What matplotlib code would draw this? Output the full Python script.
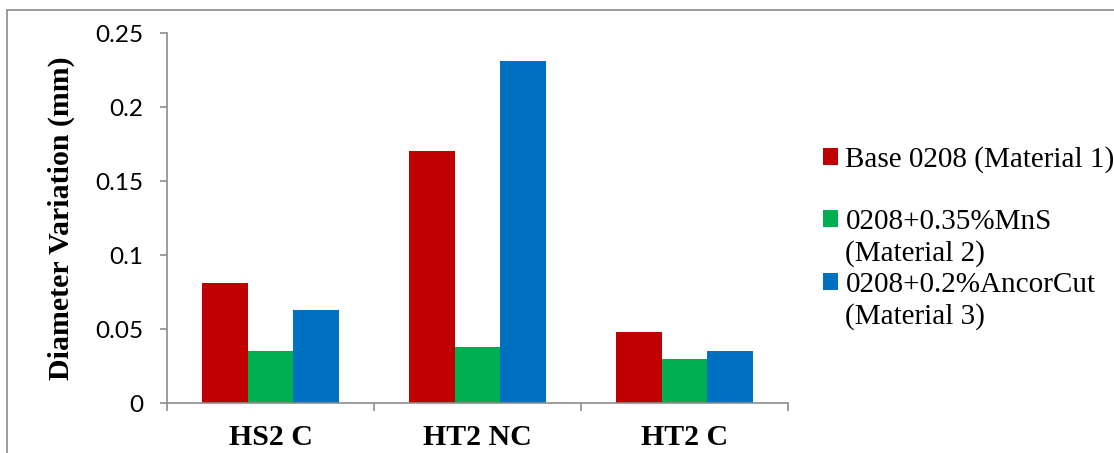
import matplotlib
matplotlib.use("Agg")
import matplotlib.pyplot as plt
import numpy as np
from matplotlib.patches import Rectangle, Patch

categories = ["HS2 C", "HT2 NC", "HT2 C"]
series_names = ["Base 0208 (Material 1)", "0208+0.35%MnS", "0208+0.2%AncorCut"]
series_notes = [None, "(Material 2)", "(Material 3)"]
material_1 = [0.081, 0.170, 0.048]
material_2 = [0.035, 0.038, 0.030]
material_3 = [0.063, 0.231, 0.035]
colors = ["#C00000", "#00B050", "#0070C0"]
yticks = [0, 0.05, 0.1, 0.15, 0.2, 0.25]
ytick_labels = ["0", "0.05", "0.1", "0.15", "0.2", "0.25"]

W, H = 1114, 453
fig = plt.figure(figsize=(W / 100, H / 100), dpi=100)
ax = fig.add_axes([167 / W, 1 - 403 / H, (788 - 167) / W, (403 - 33) / H])

# outer chart frame (runs off the right and bottom edges)
fig.patches.append(Rectangle((7 / W, -0.2), 1.2, 1.2 - 10 / H, transform=fig.transFigure,
                             fill=False, edgecolor="#8c8c8c", lw=1.2))

x = np.arange(len(categories))
bw = 0.222
bars = []
for i, vals in enumerate([material_1, material_2, material_3]):
    bars.append(ax.bar(x + (i - 1) * bw, vals, bw, color=colors[i], zorder=2))

ax.set_xlim(-0.5, len(categories) - 0.5)
ax.set_ylim(0, 0.25)
ax.set_yticks(yticks)
ax.set_yticklabels(ytick_labels, fontfamily="Lato", fontsize=17.5)
ax.set_xticks(x)
ax.set_xticklabels(categories, fontfamily="Liberation Serif", fontweight="bold", fontsize=21.5)
ax.set_xticks(np.arange(len(categories) + 1) - 0.5, minor=True)

for s in ["top", "right"]:
    ax.spines[s].set_visible(False)
for s in ["left", "bottom"]:
    ax.spines[s].set_color("#8c8c8c")
    ax.spines[s].set_linewidth(1.2)

ax.tick_params(axis="y", which="major", direction="out", length=5, color="#8c8c8c", width=1.2, pad=12)
ax.tick_params(axis="x", which="major", length=0, pad=15)
ax.tick_params(axis="x", which="minor", direction="out", length=6, color="#8c8c8c", width=1.2)

ax.set_ylabel("Diameter Variation (mm)", fontfamily="Liberation Serif", fontweight="bold", fontsize=21.5)
ax.yaxis.set_label_coords(-0.148, 0.5)

blank = Patch(facecolor="none", edgecolor="none")
handles = [bars[0], blank, bars[1], blank, bars[2], blank]
labels = [series_names[0], "", series_names[1], series_notes[1], series_names[2], series_notes[2]]
fig.legend(handles, labels, loc="center left", bbox_to_anchor=(823 / W, 1 - 238 / H),
           frameon=False, borderpad=0, borderaxespad=0, handlelength=0.52, handleheight=0.52,
           handletextpad=0.25, labelspacing=0.17,
           prop={"family": "Liberation Serif", "size": 21})

fig.savefig("out.png", dpi=100)
